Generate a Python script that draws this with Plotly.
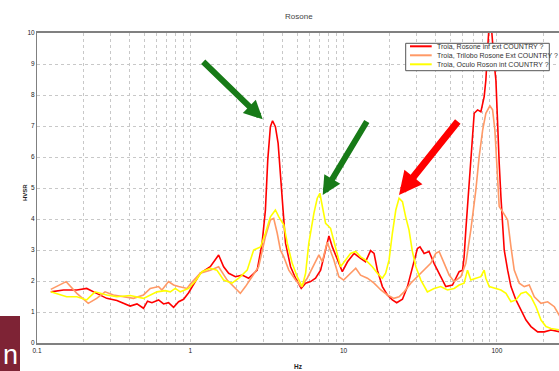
import plotly.graph_objects as go

# ---------------- data ----------------
names = ["Troia, Rosone inf ext COUNTRY ?",
         "Troia, Trilobo Rosone Ext COUNTRY ?",
         "Troia, Oculo Roson int COUNTRY ?"]
colors = ["#FF0000", "#FF9966", "#FFFF00"]

red_f = [0.123, 0.149, 0.182, 0.211, 0.245, 0.285, 0.332, 0.405, 0.449, 0.495, 0.526, 0.562,
         0.621, 0.669, 0.721, 0.778, 0.839, 0.904, 0.975, 1.05, 1.16, 1.35, 1.53, 1.65, 1.78,
         1.97, 2.18, 2.40, 2.73, 2.94, 3.09, 3.20, 3.33, 3.44, 3.59, 3.74, 3.87, 4.01, 4.18,
         4.51, 4.86, 5.29, 5.65, 6.09, 6.56, 7.08, 7.63, 8.02, 8.44, 9.10, 9.81, 10.6, 11.7,
         12.9, 13.9, 15.0, 15.8, 16.6, 17.9, 19.3, 20.8, 22.2, 24.2, 26.1, 28.1, 30.3, 31.5,
         33.5, 36.1, 38.9, 43.0, 46.4, 51.3, 56.7, 59.7, 61.1, 62.7, 64.9, 66.9, 69.3, 71.1,
         74.8, 78.6, 82.6, 84.7, 86.9, 89.1, 91.4, 93.7, 96.0, 98.5, 101, 103.5, 106.2, 108.9,
         111.6, 117.5, 123.5, 133.1, 143.5, 154.8, 166.8, 184.4, 203.7, 225.3, 258]
red_v = [1.65, 1.71, 1.71, 1.76, 1.60, 1.44, 1.37, 1.19, 1.26, 1.12, 1.35, 1.30,
         1.39, 1.26, 1.30, 1.15, 1.33, 1.41, 1.62, 1.90, 2.25, 2.46, 2.84, 2.46, 2.25,
         2.14, 2.19, 2.09, 2.35, 3.22, 4.29, 5.90, 6.98, 7.17, 6.98, 6.44, 5.36, 4.29, 3.22,
         2.46, 2.09, 1.76, 1.93, 1.98, 2.09, 2.35, 3.00, 3.45, 3.10, 2.68, 2.30, 2.62, 2.89,
         2.73, 2.62, 2.98, 2.89, 2.35, 1.82, 1.55, 1.39, 1.30, 1.41, 1.82, 2.46, 3.05, 3.10,
         2.89, 2.95, 2.57, 2.14, 1.82, 1.87, 2.30, 2.35, 2.78, 3.65, 4.72, 5.80, 6.87, 7.41,
         7.52, 7.46, 7.95, 8.48, 9.45, 10.3, 10.4, 9.56, 9.02, 8.48, 6.87, 5.80, 4.72, 3.65,
         3.00, 2.35, 1.82, 1.39, 1.06, 0.74, 0.53, 0.36, 0.36, 0.42, 0.36]

orange_f = [0.123, 0.155, 0.182, 0.216, 0.245, 0.278, 0.315, 0.366, 0.426, 0.495, 0.548, 0.621,
            0.653, 0.721, 0.778, 0.839, 0.952, 1.0, 1.16, 1.35, 1.53, 1.74, 1.97, 2.12, 2.29,
            2.53, 2.79, 3.09, 3.33, 3.50, 3.69, 3.87, 4.07, 4.39, 4.86, 5.29, 5.79, 6.40, 6.90,
            7.26, 7.82, 8.64, 9.31, 10.0, 11.1, 12.0, 12.9, 14.3, 15.8, 17.5, 19.3, 21.3, 23.0,
            24.8, 27.4, 30.3, 33.5, 37.0, 39.9, 42.0, 45.3, 48.8, 52.6, 58.2, 62.7, 67.6, 72.9,
            76.6, 80.7, 84.7, 90.0, 93.7, 97.0, 100, 103.5, 108.9, 117.5, 123.5, 129.7, 139.9,
            150.7, 162.5, 175.3, 193.9, 214.4, 237, 258]
orange_v = [1.73, 1.98, 1.60, 1.28, 1.44, 1.65, 1.55, 1.49, 1.44, 1.55, 1.76, 1.82,
            1.71, 1.98, 1.87, 1.82, 1.76, 1.90, 2.25, 2.35, 2.46, 2.03, 1.76, 1.60, 1.82,
            2.14, 2.46, 3.43, 3.97, 4.02, 3.54, 3.00, 2.78, 2.35, 2.03, 1.82, 2.09, 2.52, 2.84,
            2.62, 3.25, 2.68, 2.14, 2.03, 2.25, 2.41, 2.19, 2.09, 1.93, 1.71, 1.55, 1.44, 1.49,
            1.65, 1.93, 2.14, 2.35, 2.57, 2.89, 2.95, 2.57, 2.19, 1.98, 2.14, 2.57, 3.65, 4.94,
            6.01, 6.87, 7.41, 7.65, 7.52, 6.87, 5.80, 4.40, 4.24, 3.97, 3.10, 2.35, 1.93,
            1.82, 1.87, 1.49, 1.28, 1.33, 1.17, 0.85]

yellow_f = [0.123, 0.156, 0.182, 0.211, 0.239, 0.285, 0.332, 0.405, 0.495, 0.548, 0.606, 0.687,
            0.740, 0.798, 0.86, 0.975, 1.08, 1.19, 1.35, 1.49, 1.65, 1.87, 2.07, 2.35, 2.59,
            2.87, 3.09, 3.33, 3.59, 3.78, 4.07, 4.29, 4.62, 4.98, 5.37, 5.65, 5.93, 6.40, 6.73,
            7.0, 7.26, 7.63, 8.22, 8.87, 9.55, 10.3, 11.1, 12.0, 12.9, 13.9, 15.4, 16.6, 17.9,
            18.8, 19.8, 20.8, 21.9, 23.0, 24.2, 25.4, 26.7, 28.1, 29.6, 31.9, 35.2, 38.9, 43.0,
            47.6, 52.6, 56.7, 61.1, 64.3, 67.6, 72.9, 78.6, 82.6, 84.7, 89.1, 98.5, 106.2,
            114.6, 123.5, 133.1, 143.5, 154.8, 166.8, 179.9, 193.9, 208.9, 225.3, 258]
yellow_v = [1.65, 1.49, 1.49, 1.39, 1.65, 1.55, 1.49, 1.53, 1.44, 1.55, 1.65, 1.69,
            1.65, 1.76, 1.65, 1.76, 2.00, 2.30, 2.41, 2.35, 2.03, 1.93, 2.09, 2.35, 3.00,
            3.10, 3.54, 4.07, 4.29, 4.07, 3.81, 3.22, 2.57, 2.14, 1.82, 2.25, 3.22, 4.18, 4.67,
            4.83, 4.40, 3.86, 3.70, 3.10, 2.46, 2.68, 2.89, 2.95, 2.78, 2.68, 2.46, 2.25, 2.09,
            2.25, 2.68, 3.54, 4.29, 4.67, 4.56, 4.07, 3.65, 2.95, 2.46, 2.03, 1.65, 1.76, 1.82,
            1.71, 1.76, 1.87, 1.93, 2.35, 2.03, 2.09, 2.14, 2.35, 2.09, 1.82, 1.76, 1.71,
            1.60, 1.33, 1.39, 1.60, 1.65, 1.49, 1.17, 0.74, 0.53, 0.47, 0.42]

x_grid_vals = [m * d for d in (0.1, 1, 10, 100) for m in range(1, 10)]
x_tick_labels = {0.1: "0.1", 1: "1", 10: "10", 100: "100"}

title_text = "Rosone"
x_title = "Hz"
y_title = "HVSR"

# ---------------- figure ----------------
FONT = "Liberation Sans, Arial, sans-serif"
L, R, T, B = 37, 0, 33, 28
W, H = 559, 371
PW, PH = W - L - R, H - T - B


def px(xp):
    return (xp - L) / PW


def py(yp):
    return (H - B - yp) / PH


fig = go.Figure()
series = [(red_f, red_v), (orange_f, orange_v), (yellow_f, yellow_v)]
for (f, v), name, col in zip(series, names, colors):
    fig.add_trace(go.Scatter(x=f, y=v, mode="lines", name=name,
                             line=dict(color=col, width=1.6), showlegend=False))

ticktext = []
for val in x_grid_vals:
    lab = ""
    for k, t in x_tick_labels.items():
        if abs(val - k) < 1e-9:
            lab = t
    ticktext.append(lab)

grid = dict(showgrid=True, gridcolor="#c8c8c8", gridwidth=1, griddash="dot")
fig.update_xaxes(type="log", range=[-1, 2.405], tickmode="array",
                 tickvals=x_grid_vals, ticktext=ticktext, **grid,
                 showline=True, linecolor="#808080", linewidth=2, mirror=True,
                 zeroline=False, ticks="",
                 tickfont=dict(family=FONT, size=6.5, color="#222"))
fig.update_yaxes(range=[0, 10], dtick=1, **grid,
                 showline=True, linecolor="#808080", linewidth=1,
                 zeroline=False, ticks="",
                 tickfont=dict(family=FONT, size=6.5, color="#222"))

ann = []
ann.append(dict(text=title_text, x=px(299), y=py(16.7), xref="paper", yref="paper",
                xanchor="center", yanchor="middle",
                showarrow=False, font=dict(family=FONT, size=8, color="#444")))
ann.append(dict(text="<b>%s</b>" % x_title, x=px(298), y=py(366), xref="paper", yref="paper",
                xanchor="center", yanchor="middle",
                showarrow=False, font=dict(family=FONT, size=6.5, color="#222")))
ann.append(dict(text="<b>%s</b>" % y_title, x=px(25), y=py(193), xref="paper", yref="paper",
                xanchor="center", yanchor="middle",
                textangle=-90, showarrow=False, font=dict(family=FONT, size=6, color="#222")))

# arrows
arrows = [((262.7, 119.3), (-61, -59), "#177A17", 6, 0.62),
          ((322.7, 195.0), (45, -75), "#177A17", 6, 0.62),
          ((399.0, 195.0), (60, -75), "#FF0000", 7, 0.66)]
for (tx, ty), (dx, dy), col, w, s in arrows:
    ann.append(dict(text="", x=px(tx), y=py(ty), xref="paper", yref="paper",
                    ax=dx, ay=dy, showarrow=True, arrowhead=2, arrowsize=s,
                    arrowwidth=w, arrowcolor=col, standoff=0))

shapes = []
# legend box
shapes.append(dict(type="rect", xref="paper", yref="paper",
                   x0=px(405.7), x1=px(549.3), y0=py(70.7), y1=py(43.3),
                   line=dict(color="#555", width=1), fillcolor="white", layer="above"))
rows = [46.3, 55.3, 64.3]
for name, col, ry in zip(names, colors, rows):
    shapes.append(dict(type="line", xref="paper", yref="paper",
                       x0=px(410), x1=px(431.7), y0=py(ry), y1=py(ry),
                       line=dict(color=col, width=2), layer="above"))
    ann.append(dict(text=name, x=px(435), y=py(ry), xref="paper", yref="paper",
                    xanchor="left", yanchor="middle", showarrow=False,
                    font=dict(family=FONT, size=7, color="#333")))

# logo block at bottom-left
shapes.append(dict(type="rect", xref="paper", yref="paper",
                   x0=px(0), x1=px(20), y0=py(371), y1=py(316),
                   line=dict(width=0), fillcolor="#7E2335", layer="above"))
ann.append(dict(text="n", x=px(10.5), y=py(355), xref="paper", yref="paper",
                xanchor="center", yanchor="middle",
                showarrow=False, font=dict(family=FONT, size=27, color="white")))

fig.update_layout(width=W, height=H, margin=dict(l=L, r=R, t=T, b=B, pad=0),
                  paper_bgcolor="white", plot_bgcolor="white",
                  annotations=ann, shapes=shapes, showlegend=False)

fig.write_html("out.html")
